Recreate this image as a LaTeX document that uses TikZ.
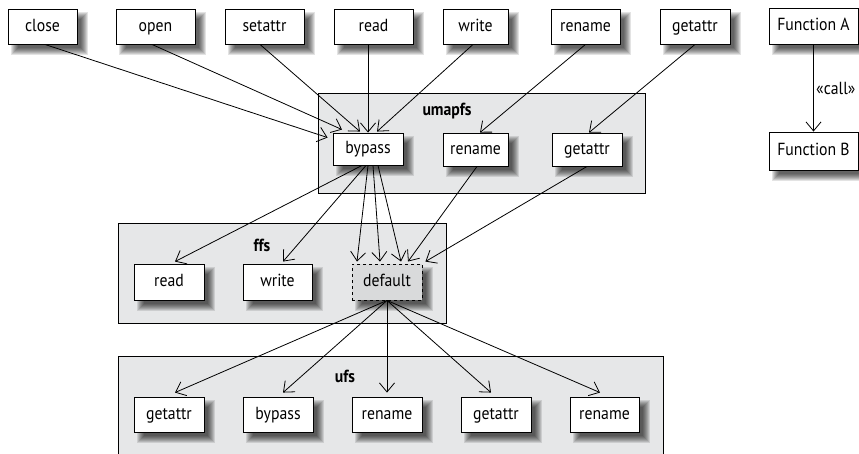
\documentclass[tikz,border=0pt]{standalone}
\usepackage{fontspec}
\setmainfont[FakeStretch=0.9]{PT Sans}
\usetikzlibrary{arrows.meta}
\definecolor{contfill}{HTML}{E6E7E8}
\definecolor{deffill}{HTML}{D9DADB}
\pgfdeclarelayer{bg}
\pgfdeclarelayer{shade}
\pgfsetlayers{bg,shade,main}
\tikzset{
  box/.style={draw=black, line width=0.9pt, fill=white, minimum height=35pt,
    inner sep=0pt, text height=12.5pt, text depth=3.5pt, font=\fontsize{17.5}{20}\selectfont},
  dbox/.style={box, dashed, fill=deffill},
  container/.style={draw=black, line width=0.8pt, fill=contfill},
  clabel/.style={font=\fontsize{17.5}{20}\selectfont\bfseries},
  shadowpiece/.style={fill=black, fill opacity=0.11},
  link/.style={draw=black, line width=0.8pt, -{Straight Barb[length=9pt,width=15pt,line width=0.8pt]}},
}
\begin{document}
\begin{tikzpicture}[x=1pt,y=-1pt]
\useasboundingbox (0,0) rectangle (859,453);
\clip (0,0) rectangle (859,453);
% containers
\begin{pgfonlayer}{bg}
\path[container] (318,93) rectangle (645,193);
\path[container] (118,223) rectangle (446,323);
\path[container] (118,356) rectangle (663,480);
\end{pgfonlayer}
\node[clabel] (lumapfs) at (447,111) {umapfs};
\node[clabel] (lffs) at (262,245) {ffs};
\node[clabel] (lufs) at (345,376) {ufs};
% top row
\node[box, minimum width=69pt] (close) at (42.5,26.5) {close};
\node[box, minimum width=79pt] (open) at (155.5,26.5) {open};
\node[box, minimum width=79pt] (setattr) at (264.5,26.5) {setattr};
\node[box, minimum width=79pt] (read) at (373.5,26.5) {read};
\node[box, minimum width=65pt] (write) at (475.5,26.5) {write};
\node[box, minimum width=69pt] (rename) at (585.5,26.5) {rename};
\node[box, minimum width=70pt] (getattr) at (695,26.5) {getattr};
\node[box, minimum width=89pt, minimum height=36pt] (funcA) at (813.5,26) {Function A};
\node[box, minimum width=89pt, minimum height=38pt] (funcB) at (813.5,151) {Function B};
% umapfs
\node[box, minimum width=70pt, minimum height=32pt] (ubypass) at (368,149) {bypass};
\node[box, minimum width=65pt, minimum height=33pt] (urename) at (475.5,149.5) {rename};
\node[box, minimum width=70pt, minimum height=33pt] (ugetattr) at (587,149.5) {getattr};
% ffs
\node[box, minimum width=70pt, minimum height=36pt] (fread) at (169,282) {read};
\node[box, minimum width=69pt, minimum height=36pt] (fwrite) at (277.5,282) {write};
\node[dbox, minimum width=70pt, minimum height=36pt] (fdefault) at (387,282) {default};
% ufs
\node[box, minimum width=70pt] (sgetattr) at (169,414.5) {getattr};
\node[box, minimum width=70pt] (sbypass) at (278,414.5) {bypass};
\node[box, minimum width=70pt] (srename) at (387,414.5) {rename};
\node[box, minimum width=70pt] (sgetattrb) at (496,414.5) {getattr};
\node[box, minimum width=69pt] (srenameb) at (604.5,414.5) {rename};
% shadows
\begin{pgfonlayer}{shade}
\foreach \n in {close,open,setattr,read,write,rename,getattr,funcA,funcB,ubypass,urename,ugetattr,fread,fwrite,fdefault,sgetattr,sbypass,srename,sgetattrb,srenameb}{
  \foreach \k in {-3,-2,-1,0,1,2,3,4}{
    \path[shadowpiece] ([shift={(7-\k,7-\k)}]\n.north west) rectangle ([shift={(7+\k,7+\k)}]\n.south east);
  }
}
\end{pgfonlayer}
% top arrows
\draw[link] ([xshift=2.5pt]close.south) -- ([shift={(-5,5)}]ubypass.north west);
\draw[link] ([xshift=-3.5pt]open.south) -- ([shift={(-26,-3)}]ubypass.north);
\draw[link] ([xshift=-4.5pt]setattr.south) -- ([shift={(-8,-1)}]ubypass.north);
\draw[link] ([xshift=-5.5pt]read.south) -- (ubypass.north);
\draw[link] ([xshift=-2.5pt]write.south) -- ([shift={(9,-1)}]ubypass.north);
\draw[link] (rename.south) -- ([shift={(4.5,0)}]urename.north);
\draw[link] (getattr.south) -- ([shift={(2,0)}]ugetattr.north);
\draw[link] (funcA) -- node[right, font=\fontsize{17.5}{20}\selectfont, xshift=-1pt] {«call»} (funcB);
% umapfs to ffs
\draw[link] ([shift={(-6,0)}]ubypass.south) -- ([shift={(6,-2)}]fread.north);
\draw[link] ([shift={(-2,0)}]ubypass.south) -- ([shift={(5.5,-2)}]fwrite.north);
\draw[link] ([shift={(0,0)}]ubypass.south) -- ([shift={(-30,-2)}]fdefault.north);
\draw[link] ([shift={(5,0)}]ubypass.south) -- ([shift={(-7,-2)}]fdefault.north);
\draw[link] ([shift={(10,0)}]ubypass.south) -- ([shift={(14,-2)}]fdefault.north);
\draw[link] ([shift={(1.5,0)}]urename.south) -- ([shift={(21,-2)}]fdefault.north);
\draw[link] (ugetattr.south) -- ([shift={(3,-2)}]fdefault.north east);
% ffs to ufs
\draw[link] (fdefault.south) -- ([shift={(6,-4)}]sgetattr.north);
\draw[link] (fdefault.south) -- ([shift={(5,-4)}]sbypass.north);
\draw[link] (fdefault.south) -- ([shift={(0,-4)}]srename.north);
\draw[link] (fdefault.south) -- ([shift={(-5,-4)}]sgetattrb.north);
\draw[link] (fdefault.south) -- ([shift={(-4.5,-4)}]srenameb.north);
\end{tikzpicture}
\end{document}
